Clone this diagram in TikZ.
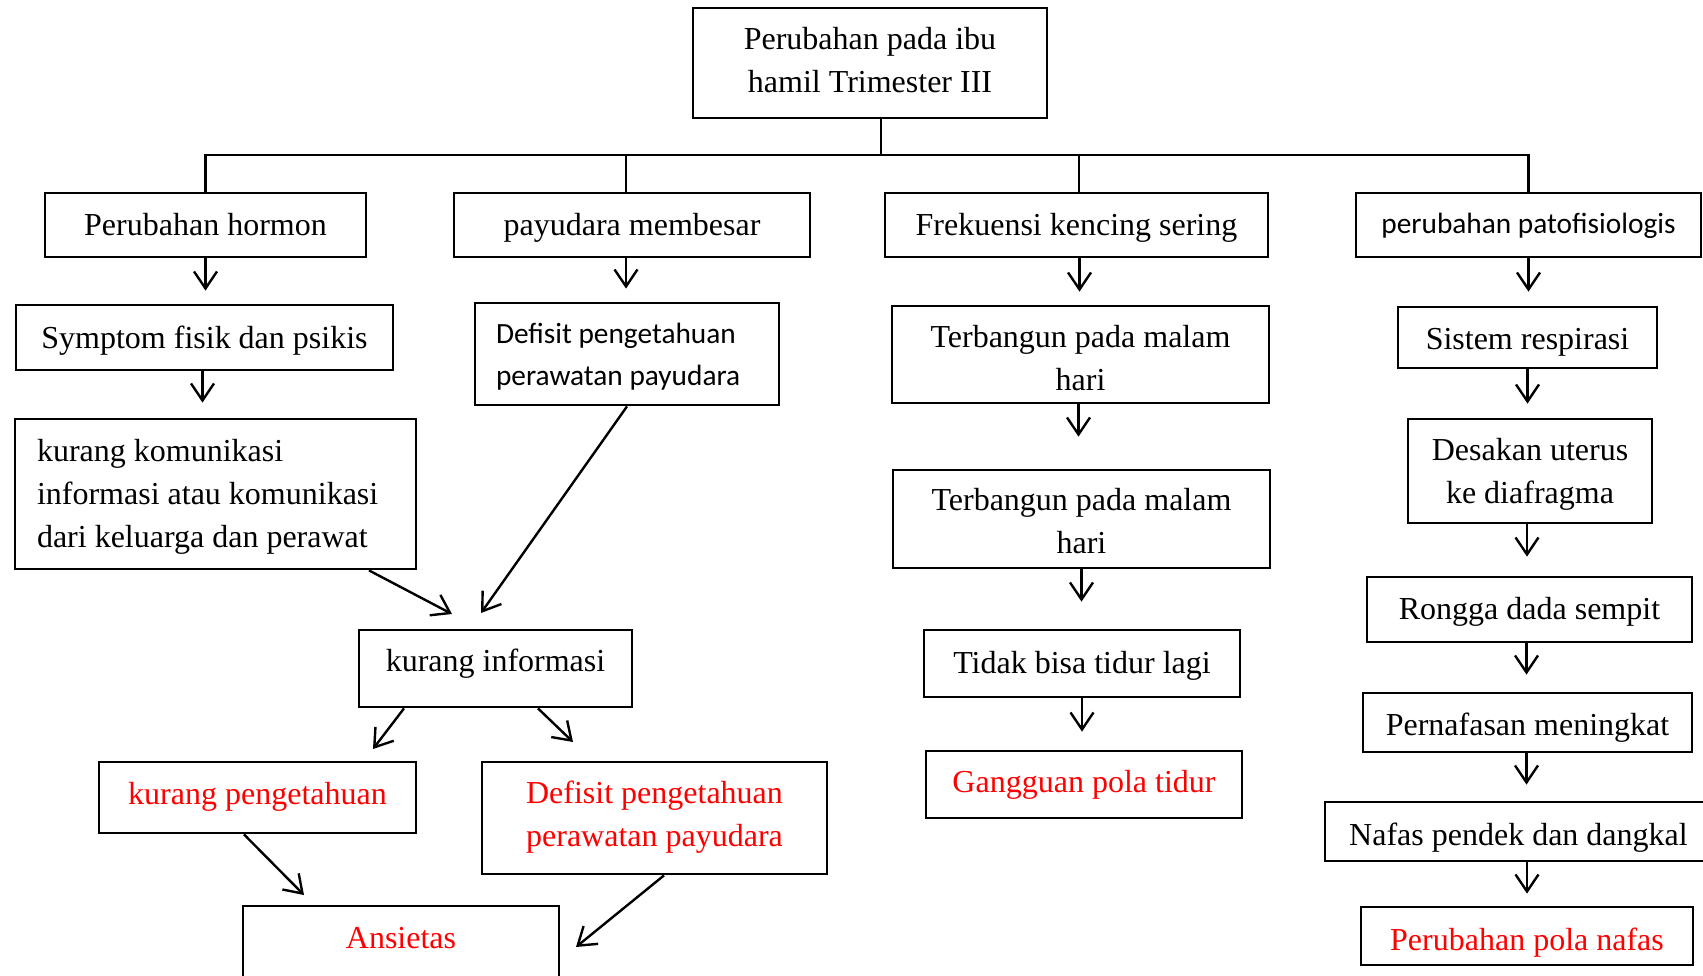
\documentclass[tikz,border=0pt]{standalone}
\usepackage{fontspec}
\setmainfont{Liberation Serif}
\newfontfamily\calfont{Carlito}
\usetikzlibrary{arrows.meta}
\newcommand\serf{\fontsize{16}{21.5}\selectfont}
\newcommand\sanf{\calfont\fontsize{14.67}{21}\selectfont}
\definecolor{rd}{RGB}{255,0,0}
\tikzset{
  frame/.style={draw, line width=1.4pt, inner sep=0pt},
  txt/.style={inner sep=0pt, align=center, font=\serf},
  redtxt/.style={text=rd},
  arr/.style={line width=1.2pt, -{Straight Barb[length=8.5pt,width=11.5pt]}},
  ln/.style={line width=1.1pt},
}
% #1 name, #2-#5 corners (px), #6 text, #7 text style, #8 downward text shift (pt)
\newcommand\bx[8]{%
  \node[frame,minimum width={(#4-#2)*0.5pt},minimum height={(#5-#3)*0.5pt}] (#1) at ({(#2+#4)/2},{(#3+#5)/2}) {};
  \node[txt,#7] (#1t) at ([yshift=-#8pt]#1.center) {#6};}
\begin{document}
\begin{tikzpicture}[x=0.5pt,y=-0.5pt]
\useasboundingbox (0,0) rectangle (1703,975);
\fill[white] (0,0) rectangle (1703,975);
\clip (0,0) rectangle (1703,975);
% boxes
\bx{top}{693}{8}{1047}{118}{Perubahan pada ibu\\hamil Trimester III}{}{-1.4}
\bx{hor}{45}{193}{366}{257}{Perubahan hormon}{}{-0.4}
\bx{pay}{454}{193}{810}{257}{payudara membesar}{}{1.6}
\bx{frek}{885}{193}{1268}{257}{Frekuensi kencing sering}{}{1.6}
\bx{pat}{1356}{193}{1701}{257}{perubahan patofisiologis}{font=\sanf}{0.4}
\bx{sym}{16}{305}{393}{370}{Symptom fisik dan psikis}{}{1.6}
\bx{def}{475}{303}{779}{405}{Defisit pengetahuan\\perawatan payudara}{font=\sanf, text width=131pt, align=flush left}{1.1}
\bx{kk}{15}{419}{416}{569}{kurang komunikasi\\informasi atau komunikasi\\dari keluarga dan perawat}{text width=178.5pt, align=flush left}{1.4}
\bx{ki}{359}{630}{632}{707}{kurang informasi}{}{-2.2}
\bx{kp}{99}{762}{416}{833}{kurang pengetahuan}{redtxt}{-0.4}
\bx{dr}{482}{762}{827}{874}{Defisit pengetahuan\\perawatan payudara}{redtxt}{-0.5}
\node[frame,minimum width={316*0.5pt},minimum height={104*0.5pt}] (ans) at (401,958) {};
\node[txt, redtxt] (anst) at (401,938) {Ansietas};
\bx{t1}{892}{306}{1269}{403}{Terbangun pada malam\\hari}{}{1.6}
\bx{t2}{893}{470}{1270}{568}{Terbangun pada malam\\hari}{}{1.1}
\bx{tid}{924}{630}{1240}{697}{Tidak bisa tidur lagi}{}{1.1}
\bx{gg}{926}{751}{1242}{818}{Gangguan pola tidur}{redtxt}{0}
\bx{sis}{1398}{307}{1657}{368}{Sistem respirasi}{}{2.2}
\bx{des}{1408}{419}{1652}{523}{Desakan uterus\\ke diafragma}{}{1.9}
\bx{ron}{1367}{577}{1692}{642}{Rongga dada sempit}{}{1.1}
\bx{per}{1363}{693}{1692}{752}{Pernafasan meningkat}{}{2.7}
\node[frame,minimum width={387*0.5pt},minimum height={59*0.5pt}] (naf) at (1518.5,831.5) {};
\node[txt] (naft) at ([xshift=0pt,yshift=-3.3pt]naf.center) {Nafas pendek dan dangkal};
\bx{pol}{1361}{907}{1693}{965}{Perubahan pola nafas}{redtxt}{3.3}
% bus
\coordinate (bus) at (881,155);
\draw[ln] ([xshift=5.5pt]top.south) -- ([xshift=5.5pt]top.south |- bus);
\draw[ln] (hor.north) -- (hor.north |- bus) -- (pat.north |- bus) -- (pat.north);
\draw[ln] ([xshift=-3pt]pay.north |- bus) -- ([xshift=-3pt]pay.north);
\draw[ln] ([xshift=1.3pt]frek.north |- bus) -- ([xshift=1.3pt]frek.north);
% vertical arrows
\draw[arr, shorten >=6.5pt] (hor.south) -- (hor.south |- sym.north);
\draw[arr, shorten >=6.5pt] ([xshift=-3pt]pay.south) -- ([xshift=-3pt]pay.south |- def.north);
\draw[arr, shorten >=7.5pt] ([xshift=-1pt]sym.south) -- ([xshift=-1pt]sym.south |- kk.north);
\draw[arr, shorten >=6.5pt] ([xshift=1.5pt]frek.south) -- ([xshift=1.5pt]frek.south |- t1.north);
\draw[arr, shorten >=16pt] ([xshift=-1pt]t1.south) -- ([xshift=-1pt]t1.south |- t2.north);
\draw[arr, shorten >=13.5pt] (t2.south) -- (t2.south |- tid.north);
\draw[arr, shorten >=9pt] (tid.south) -- (tid.south |- gg.north);
\draw[arr, shorten >=7pt] (pat.south) -- (pat.south |- sis.north);
\draw[arr, shorten >=7pt] (sis.south) -- (sis.south |- des.north);
\draw[arr, shorten >=9.5pt] ([xshift=-1.5pt]des.south) -- ([xshift=-1.5pt]des.south |- ron.north);
\draw[arr, shorten >=8.5pt] ([xshift=-1.5pt]ron.south) -- ([xshift=-1.5pt]ron.south |- per.north);
\draw[arr, shorten >=8pt] ([xshift=-0.5pt]per.south) -- ([xshift=-0.5pt]per.south |- naf.north);
\draw[arr, shorten >=6pt] (naf.south -| pol.north) -- (pol.north);
% diagonal arrows
\coordinate (c1) at (452,614);
\coordinate (c2) at (481,613);
\coordinate (c3) at (373,749);
\coordinate (c4) at (573,742);
\coordinate (c5) at (304,895);
\coordinate (c6) at (576,947);
\draw[arr] ([xshift=76.75pt]kk.south) -- (c1);
\draw[arr] (def.south) -- (c2);
\draw[arr] ([xshift=-45.75pt]ki.south) -- (c3);
\draw[arr] ([xshift=21.25pt]ki.south) -- (c4);
\draw[arr] ([xshift=-6.75pt]kp.south) -- (c5);
\draw[arr] ([xshift=4.75pt]dr.south) -- (c6);
\end{tikzpicture}
\end{document}
